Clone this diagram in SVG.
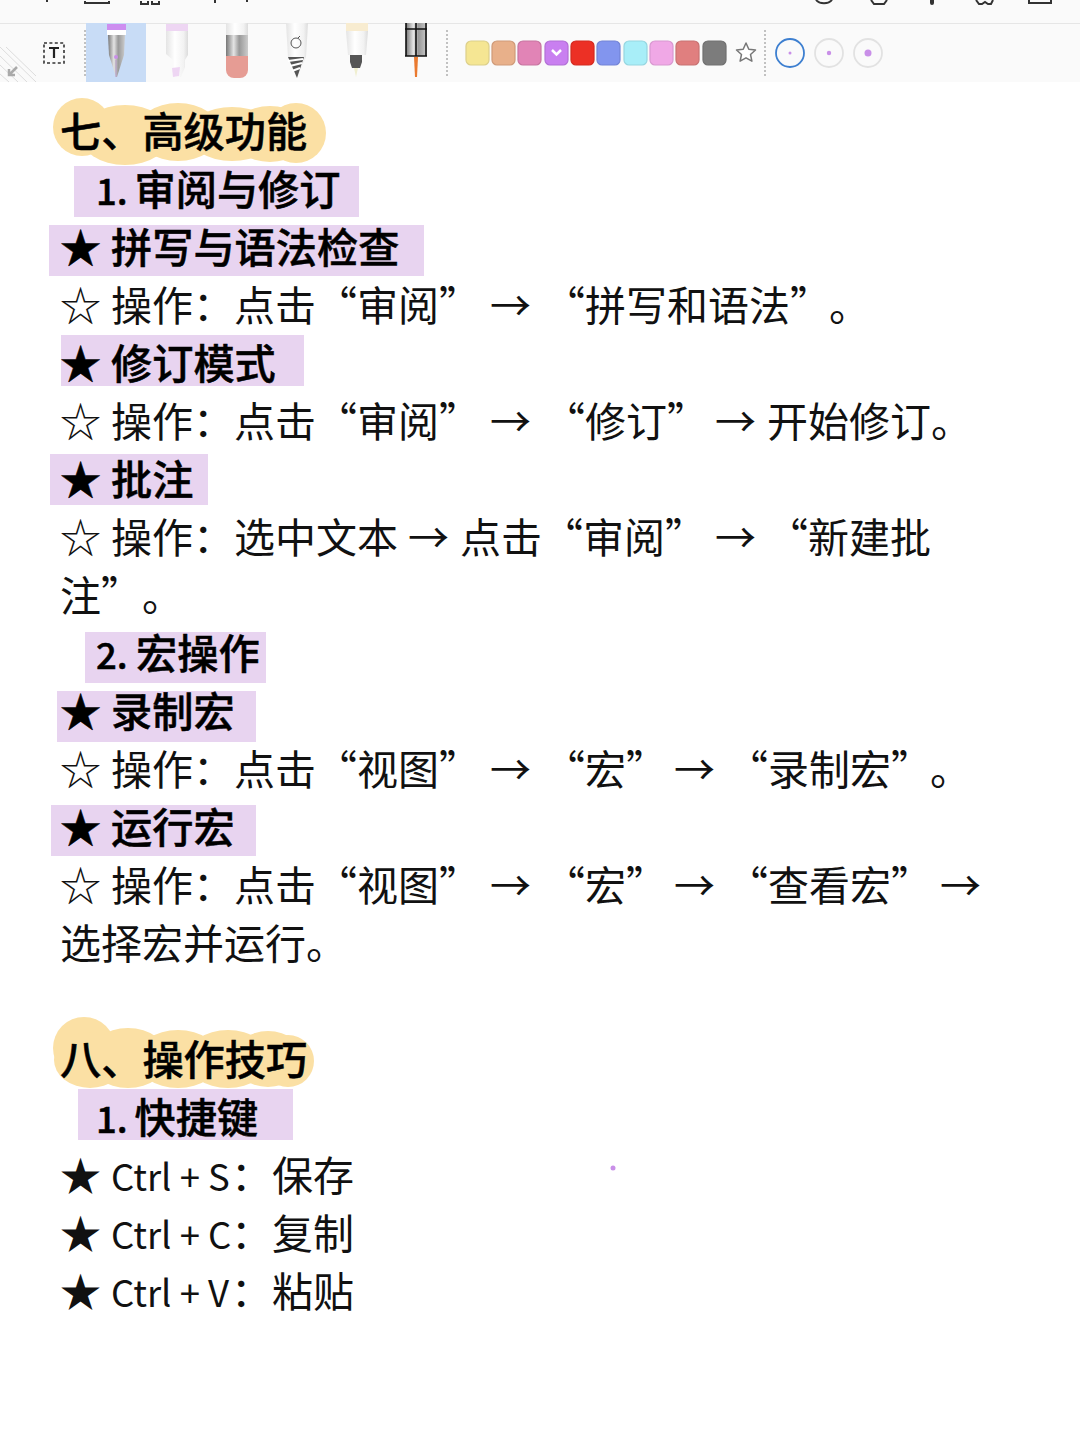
<svg xmlns="http://www.w3.org/2000/svg" width="1080" height="1440" viewBox="0 0 1080 1440">
<style>
text{font-family:"Noto Sans CJK SC","Noto Sans",sans-serif;font-size:41px;fill:#111;font-weight:400}
.b{font-weight:500;fill:#000;font-size:41.2px;stroke:#000;stroke-width:.5px}
.l{font-size:36.5px}
.h{fill:#e8d4f0}
.y{fill:#fbe0a4}
</style>
<defs>
<linearGradient id="pen" x1="0" x2="1" y1="0" y2="0"><stop offset="0" stop-color="#e4e4e4"/><stop offset=".4" stop-color="#fff"/><stop offset=".8" stop-color="#f2f2f2"/><stop offset="1" stop-color="#dcdcdc"/></linearGradient>
<linearGradient id="metal" x1="0" x2="1" y1="0" y2="0"><stop offset="0" stop-color="#777"/><stop offset=".35" stop-color="#e4e4e4"/><stop offset=".6" stop-color="#999"/><stop offset="1" stop-color="#ccc"/></linearGradient>
</defs>
<rect width="1080" height="1440" fill="#fff"/>
<g id="toolbar">
<rect width="1080" height="82" fill="#fafafa"/>
<rect y="23" width="1080" height="1" fill="#e6e6e6"/>
<g fill="none" stroke="#333" stroke-width="2">
<path d="M85 1v2h24V1M141 1v3h7V1M152 1v3h7V1"/>
<path d="M816 0a9 6 0 0 0 16 0M871 0l3 4h10l3-4M976 0l3 4h3l3-2 3 2h3l2-4M1029 0v3h22V0"/>
</g>
<path d="M46 0h2v2h-2zM214 0h2v3h-2zM246 0h2v2h-2zM930 0h4v3a2 2 0 0 1-4 0z" fill="#333"/>
<g stroke="#ddd" stroke-width="1"><path d="M0 47L36 82M0 56L27 82M0 65L18 82M0 74L9 82M6 47L36 76"/></g>
<path d="M17 67L9 75M9 69v6h6" fill="none" stroke="#aaa" stroke-width="2.5"/>
<rect x="44" y="43" width="20" height="20" fill="none" stroke="#333" stroke-width="1.6" stroke-dasharray="3 2.4"/>
<path d="M49 48h10M54 48v10" fill="none" stroke="#222" stroke-width="2.2"/>
<rect x="86" y="23" width="60" height="59" fill="#c8dcf6"/>
<path d="M85 30V76M447 30V76M765 30V76" stroke="#888" stroke-width="1" stroke-dasharray="2 2"/>
<g id="pen1"><rect x="107" y="24" width="19" height="6" fill="#cd8ef0"/><rect x="107" y="30" width="19" height="5" fill="#fff"/><path d="M108 35h17l-1 20-7 22h-1l-7-22z" fill="url(#metal)"/><circle cx="116" cy="57" r="2" fill="#c98fe8"/><path d="M116 60v17" stroke="#b79cc8" stroke-width="1"/></g>
<g id="pen2"><rect x="166" y="24" width="22" height="7" fill="#eed6f3"/><path d="M166 31h22v24l-3 5v7l-4 10h-6l-2-5V60l-7-6z" fill="url(#pen)"/><path d="M172 68l8-1-1 9-6 1z" fill="#eed6f3"/></g>
<g id="pen3"><rect x="226" y="23" width="22" height="12" fill="url(#pen)"/><rect x="226" y="35" width="22" height="21" fill="url(#metal)"/><path d="M226 56h22v14a8 8 0 0 1-8 8h-6a8 8 0 0 1-8-8z" fill="#e69c94"/></g>
<g id="pen4"><path d="M286 23h22l-2 34-9 21-9-21z" fill="url(#pen)"/><path d="M288 57h16l-7 21z" fill="#555"/><path d="M288 61l15-2M290 66l12-3M292 71l8-3" stroke="#fff" stroke-width="2"/><circle cx="296" cy="43" r="5" fill="none" stroke="#555"/><path d="M298 38l2-2" stroke="#555"/></g>
<g id="pen5"><rect x="346" y="23" width="22" height="8" fill="#f8ecd0"/><path d="M346 31h22l-2 24h-18z" fill="url(#pen)"/><path d="M350 55h12v7l-2 6h-8l-2-6z" fill="#555"/><path d="M354 68h4l-2 9z" fill="#f0efd0"/></g>
<g id="pen6"><rect x="406" y="23" width="21" height="33" fill="url(#metal)"/><path d="M405 56h22M405 29h22M416 23v33M406 23v33M426 23v33" stroke="#111" stroke-width="1.6" fill="none"/><path d="M414 57h4l-1 20h-2z" fill="#ea7a30"/></g>
<g stroke-width="1.2">
<rect x="466" y="41" width="23" height="24" rx="5" fill="#f5e693" stroke="#dccf8a"/>
<rect x="492" y="41" width="23" height="24" rx="5" fill="#e8b08a" stroke="#cf9a78"/>
<rect x="518" y="41" width="23" height="24" rx="5" fill="#e184b6" stroke="#c774a0"/>
<rect x="545" y="41" width="23" height="24" rx="5" fill="#c97ff0" stroke="#b270d6"/>
<rect x="571" y="41" width="23" height="24" rx="5" fill="#ec3025" stroke="#d42a20"/>
<rect x="597" y="41" width="23" height="24" rx="5" fill="#8295ee" stroke="#7384d6"/>
<rect x="624" y="41" width="23" height="24" rx="5" fill="#a8eef8" stroke="#96d6e0"/>
<rect x="650" y="41" width="23" height="24" rx="5" fill="#f0a8e6" stroke="#d898d0"/>
<rect x="676" y="41" width="23" height="24" rx="5" fill="#e07f7f" stroke="#c87272"/>
<rect x="703" y="41" width="23" height="24" rx="5" fill="#7c7c7c" stroke="#707070"/>
</g>
<path d="M552 50l4.500 4.500 4.500-4.500" fill="none" stroke="#fff" stroke-width="2.500"/>
<path d="M746 43l2.800 6.200 6.700.8-5 4.500 1.400 6.700-5.900-3.400-5.900 3.400 1.400-6.700-5-4.500 6.700-.8z" fill="#fff" stroke="#777" stroke-width="1.500" stroke-linejoin="round"/>
<circle cx="790" cy="53" r="14" fill="none" stroke="#3d7fd0" stroke-width="1.800"/><circle cx="790" cy="53" r="1.500" fill="#c98fe8"/>
<circle cx="829" cy="53" r="14" fill="none" stroke="#e2e2e2" stroke-width="1.800"/><circle cx="829" cy="53" r="2.200" fill="#c98fe8"/>
<circle cx="868" cy="53" r="14" fill="none" stroke="#e2e2e2" stroke-width="1.800"/><circle cx="868" cy="53" r="3.500" fill="#c98fe8"/>
</g>
<g id="highlights">
<g class="y">
<circle cx="82" cy="127" r="29"/><ellipse cx="125" cy="135" rx="45" ry="30"/><ellipse cx="178" cy="132" rx="42" ry="29"/><ellipse cx="232" cy="134" rx="44" ry="27"/><ellipse cx="270" cy="134" rx="40" ry="28"/><circle cx="296" cy="133" r="30"/>
</g>
<rect class="h" x="74" y="166" width="285" height="51"/>
<rect class="h" x="49" y="225" width="375" height="51"/>
<rect class="h" x="61" y="335" width="243" height="51"/>
<rect class="h" x="50" y="454" width="158" height="51"/>
<rect class="h" x="85" y="632" width="181" height="51"/>
<rect class="h" x="57" y="691" width="199" height="51"/>
<rect class="h" x="51" y="805" width="205" height="51"/>
<rect class="h" x="78" y="1089" width="215" height="51"/>
<g class="y">
<circle cx="84" cy="1048" r="31"/><ellipse cx="90" cy="1060" rx="36" ry="28"/><ellipse cx="128" cy="1058" rx="40" ry="30"/><ellipse cx="178" cy="1059" rx="42" ry="29"/><ellipse cx="228" cy="1059" rx="42" ry="29"/><ellipse cx="268" cy="1059" rx="36" ry="28"/><ellipse cx="288" cy="1061" rx="26" ry="26"/>
</g>
</g>
<circle id="dot" cx="613" cy="1168" r="2.500" fill="#c98fe8"/>
<g id="line-text" transform="translate(0 1)">
<text class="b" x="60" y="146">七、高级功能</text>
<text class="b l" x="96" y="204">1.</text><text class="b" x="134.500" y="204">审阅与修订</text>
<text class="b" x="60" y="262">★</text><text class="b" x="111" y="262">拼写与语法检查</text>
<g><text x="60" y="320">☆</text><text x="111" y="320">操作&#xFF1A;点击“审阅”</text><text x="490" y="320">→</text><text x="544" y="320">“拼写和语法”</text><text x="829" y="320">。</text></g>
<text class="b" x="60" y="378">★</text><text class="b" x="111" y="378">修订模式</text>
<g><text x="60" y="436">☆</text><text x="111" y="436">操作&#xFF1A;点击“审阅”</text><text x="490" y="436">→</text><text x="544" y="436">“修订”</text><text x="715" y="436">→</text><text x="767" y="436">开始修订。</text></g>
<text class="b" x="60" y="494">★</text><text class="b" x="111" y="494">批注</text>
<g><text x="60" y="552">☆</text><text x="111" y="552">操作&#xFF1A;选中文本</text><text x="408" y="552">→</text><text x="460" y="552">点击“审阅”</text><text x="715" y="552">→</text><text x="767" y="552">“新建批</text></g>
<text x="60" y="610">注”</text><text x="142" y="610">。</text>
<text class="b l" x="96" y="668">2.</text><text class="b" x="136" y="668">宏操作</text>
<text class="b" x="60" y="726">★</text><text class="b" x="111" y="726">录制宏</text>
<g><text x="60" y="784">☆</text><text x="111" y="784">操作&#xFF1A;点击“视图”</text><text x="490" y="784">→</text><text x="544" y="784">“宏”</text><text x="674" y="784">→</text><text x="727" y="784">“录制宏”</text><text x="930" y="784">。</text></g>
<text class="b" x="60" y="842">★</text><text class="b" x="111" y="842">运行宏</text>
<g><text x="60" y="900">☆</text><text x="111" y="900">操作&#xFF1A;点击“视图”</text><text x="490" y="900">→</text><text x="544" y="900">“宏”</text><text x="674" y="900">→</text><text x="727" y="900">“查看宏”</text><text x="940" y="900">→</text></g>
<text x="60" y="958">选择宏并运行。</text>
<text class="b" x="60" y="1074">八、操作技巧</text>
<text class="b l" x="96" y="1132">1.</text><text class="b" x="134.500" y="1132">快捷键</text>
<g><text x="60" y="1190">★</text><text class="l" x="111" y="1190">Ctrl + S</text><text x="231" y="1190">&#xFF1A;</text><text x="272" y="1190">保存</text></g>
<g><text x="60" y="1248">★</text><text class="l" x="111" y="1248">Ctrl + C</text><text x="231" y="1248">&#xFF1A;</text><text x="272" y="1248">复制</text></g>
<g><text x="60" y="1306">★</text><text class="l" x="111" y="1306">Ctrl + V</text><text x="231" y="1306">&#xFF1A;</text><text x="272" y="1306">粘贴</text></g>
</g>
</svg>
